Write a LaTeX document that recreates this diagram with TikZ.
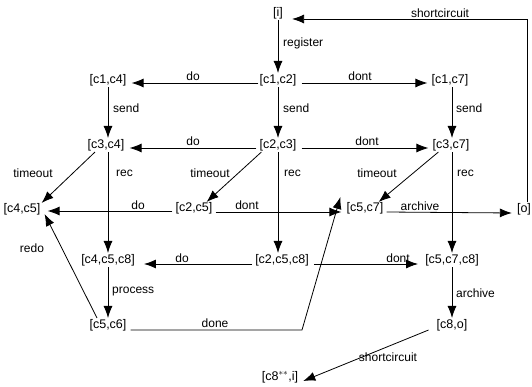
\documentclass[tikz,border=0pt]{standalone}
\usepackage{fontspec}
\setmainfont{Liberation Sans}
\usetikzlibrary{arrows.meta}
\begin{document}
\begin{tikzpicture}[x=1pt,y=-1pt,
  st/.style={inner sep=1pt, font=\fontsize{12.5}{14}\selectfont},
  lab/.style={inner sep=0pt, font=\fontsize{12}{14}\selectfont},
  arr/.style={-{Latex[length=12pt,width=9pt]}, line width=0.8pt}]
\useasboundingbox (0,0) rectangle (532,387);
% states
\node[st] (i) at (278,13) {[i]};
\node[st] (c1c4) at (108,80) {[c1,c4]};
\node[st] (c1c2) at (278,80) {[c1,c2]};
\node[st] (c1c7) at (450,80) {[c1,c7]};
\node[st] (c3c4) at (106,145) {[c3,c4]};
\node[st] (c2c3) at (278,145) {[c2,c3]};
\node[st] (c3c7) at (451,145) {[c3,c7]};
\node[st] (c4c5) at (22,209) {[c4,c5]};
\node[st] (c2c5) at (194,208) {[c2,c5]};
\node[st] (c5c7) at (365,208) {[c5,c7]};
\node[st] (o) at (524,209) {[o]};
\node[st] (c4c5c8) at (108,260) {[c4,c5,c8]};
\node[st] (c2c5c8) at (282,260) {[c2,c5,c8]};
\node[st] (c5c7c8) at (452,260) {[c5,c7,c8]};
\node[st] (c5c6) at (108,325) {[c5,c6]};
\node[st] (c8o) at (452,325) {[c8,o]};
\node[st] (c8i) at (280,377) {[c8$^{**}$,i]};
\coordinate (bend) at (302,330);
% vertical
\draw[arr] (i.south) -- (c1c2.north);
\draw[arr] (c1c4.south) -- (c1c4.south |- c3c4.north);
\draw[arr] (c1c2.south) -- (c2c3.north);
\draw[arr] ([xshift=2pt]c1c7.south) -- ([xshift=2pt]c1c7.south |- c3c7.north);
\draw[arr] (c3c4.south -| c1c4.south) -- (c1c4.south |- c4c5c8.north);
\draw[arr] (c2c3.south) -- (c2c3.south |- c2c5c8.north);
\draw[arr] ([xshift=1pt]c3c7.south) -- ([xshift=1pt]c3c7.south |- c5c7c8.north);
\draw[arr] (c4c5c8.south) -- (c5c6.north);
\draw[arr] (c5c7c8.south) -- (c8o.north);
% horizontal
\draw[arr] ([yshift=-3pt]c1c2.west) -- ([yshift=-3pt,xshift=4pt]c1c4.east);
\draw[arr] ([yshift=-3pt,xshift=4pt]c1c2.east) -- ([yshift=-3pt,xshift=-3pt]c1c7.west);
\draw[arr] ([yshift=-3pt,xshift=-2pt]c2c3.west) -- ([yshift=-3pt,xshift=4pt]c3c4.east);
\draw[arr] ([yshift=-3pt,xshift=4pt]c2c3.east) -- ([yshift=-3pt,xshift=-3pt]c3c7.west);
\draw[arr] ([yshift=-3pt,xshift=-2pt]c2c5.west) -- ([yshift=-2pt,xshift=6pt]c4c5.east);
\draw[arr] ([yshift=-4pt,xshift=2pt]c2c5.east) -- ([yshift=-4pt,xshift=-4pt]c5c7.west);
\draw[arr] ([yshift=-4pt,xshift=2pt]c5c7.east) -- ([yshift=-4pt,xshift=-4pt]o.west);
\draw[arr] ([yshift=-4pt,xshift=-2pt]c2c5c8.west) -- ([yshift=-4pt,xshift=8pt]c4c5c8.east);
\draw[arr] ([yshift=-4pt,xshift=4pt]c2c5c8.east) -- ([yshift=-4pt,xshift=-6pt]c5c7c8.west);
% diagonal
\draw[arr] ([xshift=-11pt]c3c4.south) -- ([xshift=0pt,yshift=-1pt]c4c5.north east);
\draw[arr] ([xshift=3pt]c2c3.south west) -- ([xshift=-7pt,yshift=-1pt]c2c5.north east);
\draw[arr] ([xshift=7pt]c3c7.south west) -- ([xshift=-6pt,yshift=-1pt]c5c7.north east);
\draw[arr] ([xshift=-11pt]c5c6.north) -- ([xshift=3pt,yshift=2pt]c4c5.south east);
\draw[arr] ([xshift=3pt,yshift=-5pt]c5c6.east) -- (bend) -- ([xshift=-5pt,yshift=11pt]c5c7.west);
\draw[arr] ([xshift=-7pt,yshift=2pt]c8o.south west) -- ([xshift=4pt,yshift=-4pt]c8i.east);
\draw[arr] ([xshift=3pt]o.north) |- ([xshift=8pt,yshift=-6pt]i.east);
% labels
\node[lab,anchor=west] (l1) at (283,43) {register};
\node[lab] (l2) at (440,13) {shortcircuit};
\node[lab] (l3) at (193,76) {do};
\node[lab] (l4) at (360,76) {dont};
\node[lab,anchor=west] (l5) at (113,108) {send};
\node[lab,anchor=west] (l6) at (283,108) {send};
\node[lab,anchor=west] (l7) at (456,108) {send};
\node[lab] (l8) at (193,141) {do};
\node[lab] (l9) at (367,141) {dont};
\node[lab] (l10) at (33,173) {timeout};
\node[lab,anchor=west] (l11) at (116,173) {rec};
\node[lab] (l12) at (210,173) {timeout};
\node[lab,anchor=west] (l13) at (284,173) {rec};
\node[lab] (l14) at (377,173) {timeout};
\node[lab,anchor=west] (l15) at (457,173) {rec};
\node[lab] (l16) at (138,205) {do};
\node[lab] (l17) at (247,205) {dont};
\node[lab] (l18) at (420,206) {archive};
\node[lab] (l19) at (32,248) {redo};
\node[lab] (l20) at (182,258) {do};
\node[lab] (l21) at (398,258) {dont};
\node[lab,anchor=west] (l22) at (112,292) {process};
\node[lab,anchor=west] (l23) at (456,293) {archive};
\node[lab] (l24) at (215,323) {done};
\node[lab] (l25) at (388,357) {shortcircuit};
\end{tikzpicture}
\end{document}
